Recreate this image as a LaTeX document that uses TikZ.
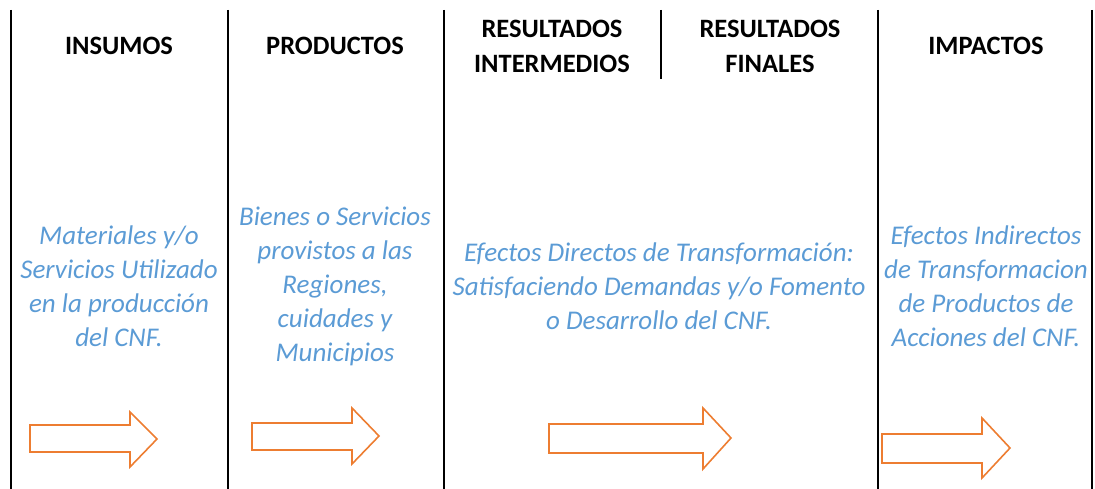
\documentclass[tikz,border=0pt]{standalone}
\usepackage{fontspec}
\setmainfont{Carlito}
\definecolor{azultexto}{HTML}{5B9BD5}
\definecolor{naranja}{HTML}{ED7D31}
\tikzset{
    encabezado/.style={font=\bfseries\fontsize{26.5}{35}\selectfont, align=center, inner sep=0pt},
    cuerpo/.style={font=\itshape\fontsize{27}{34}\selectfont, text=azultexto, align=center, inner sep=0pt},
    flecha/.style={draw=naranja, line width=1.6pt, line join=miter},
    columna/.style={line width=1.6pt}
}
\begin{document}
\begin{tikzpicture}[x=1pt, y=-1pt]
    \useasboundingbox (0,0) rectangle (1095,489);

        % column separators
        \draw[columna] (11,10) -- (11,489);
        \draw[columna] (228,10) -- (228,489);
        \draw[columna] (444,10) -- (444,489);
        \draw[columna] (878,10) -- (878,489);
        \draw[columna] (1092,10) -- (1092,489);
        \draw[line width=1.2pt] (661,10) -- (661,79);

        % headers
        \node[encabezado] (insumos) at (119,46) {INSUMOS};
        \node[encabezado] (productos) at (335,46) {PRODUCTOS};
        \node[encabezado] (intermedios) at (552,46) {RESULTADOS\\INTERMEDIOS};
        \node[encabezado] (finales) at (770,46) {RESULTADOS\\FINALES};
        \node[encabezado] (impactos) at (986,46) {IMPACTOS};

        % descriptions
        \node[cuerpo] (txtinsumos) at (119,286) {Materiales y/o\\Servicios Utilizado\\en la producción\\del CNF.};
        \node[cuerpo] (txtproductos) at (335,286) {Bienes o Servicios\\provistos a las\\Regiones,\\cuidades y\\Municipios};
        \node[cuerpo] (txtresultados) at (659,286) {Efectos Directos de Transformación:\\Satisfaciendo Demandas y/o Fomento\\o Desarrollo del CNF.};
        \node[cuerpo] (txtimpactos) at (986,286) {Efectos Indirectos\\de Transformacion\\de Productos de\\Acciones del CNF.};

        % draw arrows
        \draw[flecha] (30,425) -- (130,425) -- (130,412) -- (157,439) -- (130,467) -- (130,452) -- (30,452) -- cycle;
        \draw[flecha] (252,423) -- (352,423) -- (352,408) -- (379,436) -- (352,464) -- (352,450) -- (252,450) -- cycle;
        \draw[flecha] (549,424) -- (703,424) -- (703,408) -- (731,438) -- (703,469) -- (703,453) -- (549,453) -- cycle;
        \draw[flecha] (882,434) -- (982,434) -- (982,418) -- (1010,448) -- (982,478) -- (982,463) -- (882,463) -- cycle;
    \end{tikzpicture}
\end{document}
